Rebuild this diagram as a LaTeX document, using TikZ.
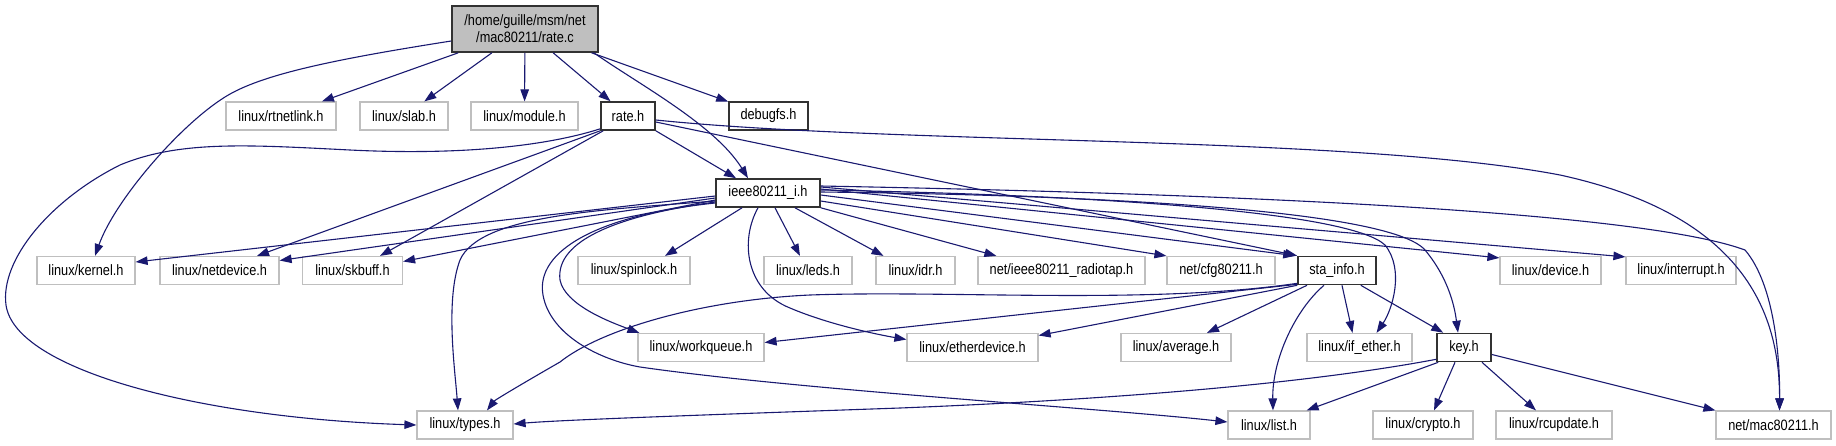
\documentclass[tikz,border=0pt]{standalone}
\usepackage{fontspec}
\setmainfont{Liberation Sans}
\usetikzlibrary{arrows.meta,calc}
\definecolor{edgeblue}{RGB}{25,25,112}
\definecolor{boxgray}{RGB}{191,191,191}
\definecolor{boxdark}{RGB}{50,50,50}
\newcommand\lb[1]{\scalebox{0.85}[1]{#1}}
\begin{document}
\begin{tikzpicture}[x=1pt,y=-1pt,
  extbox/.style={draw=boxgray, line width=1.2pt, minimum height=28pt, inner sep=0pt, font=\fontsize{15}{17}\selectfont},
  locbox/.style={extbox, draw=boxdark, line width=1.6pt},
  rootbox/.style={locbox, fill=boxgray, minimum height=46pt, align=center},
  dep/.style={draw=edgeblue, line width=1.1pt, -{Triangle[length=12pt,width=8.5pt]}}]
\useasboundingbox (0,0) rectangle (1836,445);
% nodes
\node[rootbox, minimum width=146pt] (rc) at (525,29) {\lb{/home/guille/msm/net}\\\lb{/mac80211/rate.c}};
\node[extbox, minimum width=110pt] (rtnl) at (281,116) {\lb{linux/rtnetlink.h}};
\node[extbox, minimum width=88pt] (slab) at (404,116) {\lb{linux/slab.h}};
\node[extbox, minimum width=107pt] (module) at (524.5,116) {\lb{linux/module.h}};
\node[locbox, minimum width=54pt] (rateh) at (628,116) {\lb{rate.h}};
\node[locbox, minimum width=79pt] (debugfs) at (768.5,116) {\lb{debugfs.h}};
\node[locbox, minimum width=104pt] (ieee) at (768,193) {\lb{ieee80211\_i.h}};
\node[extbox, minimum width=98pt] (kernel) at (86,270.5) {\lb{linux/kernel.h}};
\node[extbox, minimum width=119pt] (netdev) at (219.5,270.5) {\lb{linux/netdevice.h}};
\node[extbox, minimum width=100pt] (skbuff) at (352.5,270.5) {\lb{linux/skbuff.h}};
\node[extbox, minimum width=112pt] (spinlock) at (634,270.5) {\lb{linux/spinlock.h}};
\node[extbox, minimum width=88pt] (leds) at (808,270.5) {\lb{linux/leds.h}};
\node[extbox, minimum width=79pt] (idr) at (915.5,270.5) {\lb{linux/idr.h}};
\node[extbox, minimum width=167pt] (radiotap) at (1061.5,270.5) {\lb{net/ieee80211\_radiotap.h}};
\node[extbox, minimum width=108pt] (cfg) at (1221,270.5) {\lb{net/cfg80211.h}};
\node[locbox, minimum width=78pt] (sta) at (1337,270.5) {\lb{sta\_info.h}};
\node[extbox, minimum width=101pt] (device) at (1550.5,270.5) {\lb{linux/device.h}};
\node[extbox, minimum width=110pt] (interrupt) at (1681,270.5) {\lb{linux/interrupt.h}};
\node[extbox, minimum width=126pt] (workqueue) at (701,347.5) {\lb{linux/workqueue.h}};
\node[extbox, minimum width=131pt] (ether) at (972.5,347.5) {\lb{linux/etherdevice.h}};
\node[extbox, minimum width=110pt] (average) at (1176,347.5) {\lb{linux/average.h}};
\node[extbox, minimum width=105pt] (ifether) at (1359.5,347.5) {\lb{linux/if\_ether.h}};
\node[locbox, minimum width=54pt] (key) at (1464,347.5) {\lb{key.h}};
\node[extbox, minimum width=96pt] (types) at (465,425) {\lb{linux/types.h}};
\node[extbox, minimum width=82pt] (list) at (1269,425) {\lb{linux/list.h}};
\node[extbox, minimum width=100pt] (crypto) at (1423,425) {\lb{linux/crypto.h}};
\node[extbox, minimum width=116pt] (rcupdate) at (1554,425) {\lb{linux/rcupdate.h}};
\node[extbox, minimum width=115pt] (mac) at (1773.5,425) {\lb{net/mac80211.h}};
% rate.c
\draw[dep] ($(rc.west)+(0,12)$) .. controls (330,60) and (260,75) .. (225,97) .. controls (180,125) and (115,200) .. ($(kernel.north)+(9,0)$);
\draw[dep] (rc) -- (rtnl);
\draw[dep] (rc) -- (slab);
\draw[dep] (rc) -- (module);
\draw[dep] (rc) -- (rateh);
\draw[dep] ($(rc.south east)+(-5,0)$) .. controls (640,85) and (715,125) .. ($(ieee.north)+(-20,0)$);
\draw[dep] (rc) -- (debugfs);
% rate.h
\draw[dep] ($(rateh.south west)+(0,-2)$) .. controls (540,148) and (450,155) .. (350,150) .. controls (250,145) and (180,140) .. (120,165) .. controls (50,200) and (0,260) .. (6,305) .. controls (15,370) and (200,418) .. (types.west);
\draw[dep] (rateh.south west) -- ($(netdev.north)+(37.5,0)$);
\draw[dep] ($(rateh.south west)+(3,0)$) -- ($(skbuff.north)+(27.5,0)$);
\draw[dep] (rateh.south east) -- ($(ieee.north)+(-32,0)$);
\draw[dep] ($(rateh.east)+(0,6)$) -- (sta.north west);
\draw[dep] ($(rateh.east)+(0,4)$) .. controls (900,145) and (1350,135) .. (1560,175) .. controls (1720,210) and (1780,290) .. ($(mac.north)+(6,0)$);
% ieee80211_i.h
\draw[dep] ($(ieee.west)+(0,3)$) -- ($(kernel.east)+(0,-8.5)$);
\draw[dep] ($(ieee.west)+(0,5)$) -- ($(netdev.east)+(0,-10)$);
\draw[dep] ($(ieee.west)+(0,7)$) -- ($(skbuff.east)+(0,-9)$);
\draw[dep] ($(ieee.west)+(0,8)$) .. controls (600,210) and (480,215) .. (460,260) .. controls (445,300) and (455,370) .. ($(types.north)+(-7,0)$);
\draw[dep] ($(ieee.west)+(0,9)$) .. controls (620,215) and (555,240) .. (560,280) .. controls (565,305) and (610,322) .. ($(workqueue.north west)+(2,0)$);
\draw[dep] ($(ieee.west)+(0,10)$) .. controls (600,215) and (535,250) .. (543,295) .. controls (550,335) and (600,360) .. (640,367) .. controls (800,390) and (1100,408) .. ($(list.west)+(0,-3)$);
\draw[dep] ($(ieee.south)+(-26,0)$) -- ($(spinlock.north)+(31,0)$);
\draw[dep] ($(ieee.south)+(-10,0)$) .. controls (740,240) and (745,290) .. (790,308) .. controls (830,325) and (880,335) .. ($(ether.west)+(0,-8)$);
\draw[dep] ($(ieee.south)+(7,0)$) -- ($(leds.north)+(-8,0)$);
\draw[dep] ($(ieee.south)+(27,0)$) -- ($(idr.north)+(-32,0)$);
\draw[dep] (ieee.south east) -- ($(radiotap.north west)+(19,0)$);
\draw[dep] ($(ieee.east)+(0,8)$) -- (cfg.north west);
\draw[dep] ($(ieee.east)+(0,2)$) -- ($(sta.north west)+(-2,0)$);
\draw[dep] ($(ieee.east)+(0,-3)$) .. controls (1100,195) and (1350,212) .. (1385,245) .. controls (1405,270) and (1392,310) .. ($(ifether.north)+(17,0)$);
\draw[dep] ($(ieee.east)+(0,-1)$) .. controls (1100,195) and (1390,210) .. (1425,250) .. controls (1450,280) and (1455,310) .. ($(key.north)+(-6,0)$);
\draw[dep] ($(ieee.east)+(0,-4)$) -- ($(device.north west)+(0,2)$);
\draw[dep] ($(ieee.east)+(0,-6)$) -- ($(interrupt.north west)+(0,1)$);
\draw[dep] ($(ieee.east)+(0,-7)$) .. controls (1300,195) and (1650,215) .. (1745,250) .. controls (1775,285) and (1780,360) .. ($(mac.north)+(6,0)$);
% sta_info.h
\draw[dep] ($(sta.south west)+(0,-2)$) .. controls (1150,305) and (950,290) .. (810,295) .. controls (700,300) and (600,330) .. (560,362) .. controls (520,385) and (495,400) .. ($(types.north)+(22,0)$);
\draw[dep] ($(sta.south west)+(0,-1)$) -- ($(workqueue.east)+(0,-5)$);
\draw[dep] (sta.south west) -- ($(ether.east)+(0,-12)$);
\draw[dep] ($(sta.south)+(-30,0)$) -- ($(average.north)+(31,0)$);
\draw[dep] ($(sta.south)+(-13,0)$) .. controls (1295,310) and (1272,360) .. ($(list.north)+(4,0)$);
\draw[dep] ($(sta.south)+(5,0)$) -- ($(ifether.north)+(-7,0)$);
\draw[dep] ($(sta.south east)+(-16,0)$) -- ($(key.north west)+(7,0)$);
% key.h
\draw[dep] ($(key.south west)+(0,-3)$) .. controls (1300,385) and (1100,400) .. (900,408) .. controls (700,415) and (560,420) .. ($(types.east)+(0,-1)$);
\draw[dep] ($(key.south west)+(2,0)$) -- ($(list.north east)+(-4,0)$);
\draw[dep] ($(key.south)+(-9,0)$) -- ($(crypto.north)+(11,0)$);
\draw[dep] ($(key.south)+(18,0)$) -- ($(rcupdate.north)+(-18,0)$);
\draw[dep] ($(key.east)+(0,7)$) -- (mac.north west);
\end{tikzpicture}
\end{document}
